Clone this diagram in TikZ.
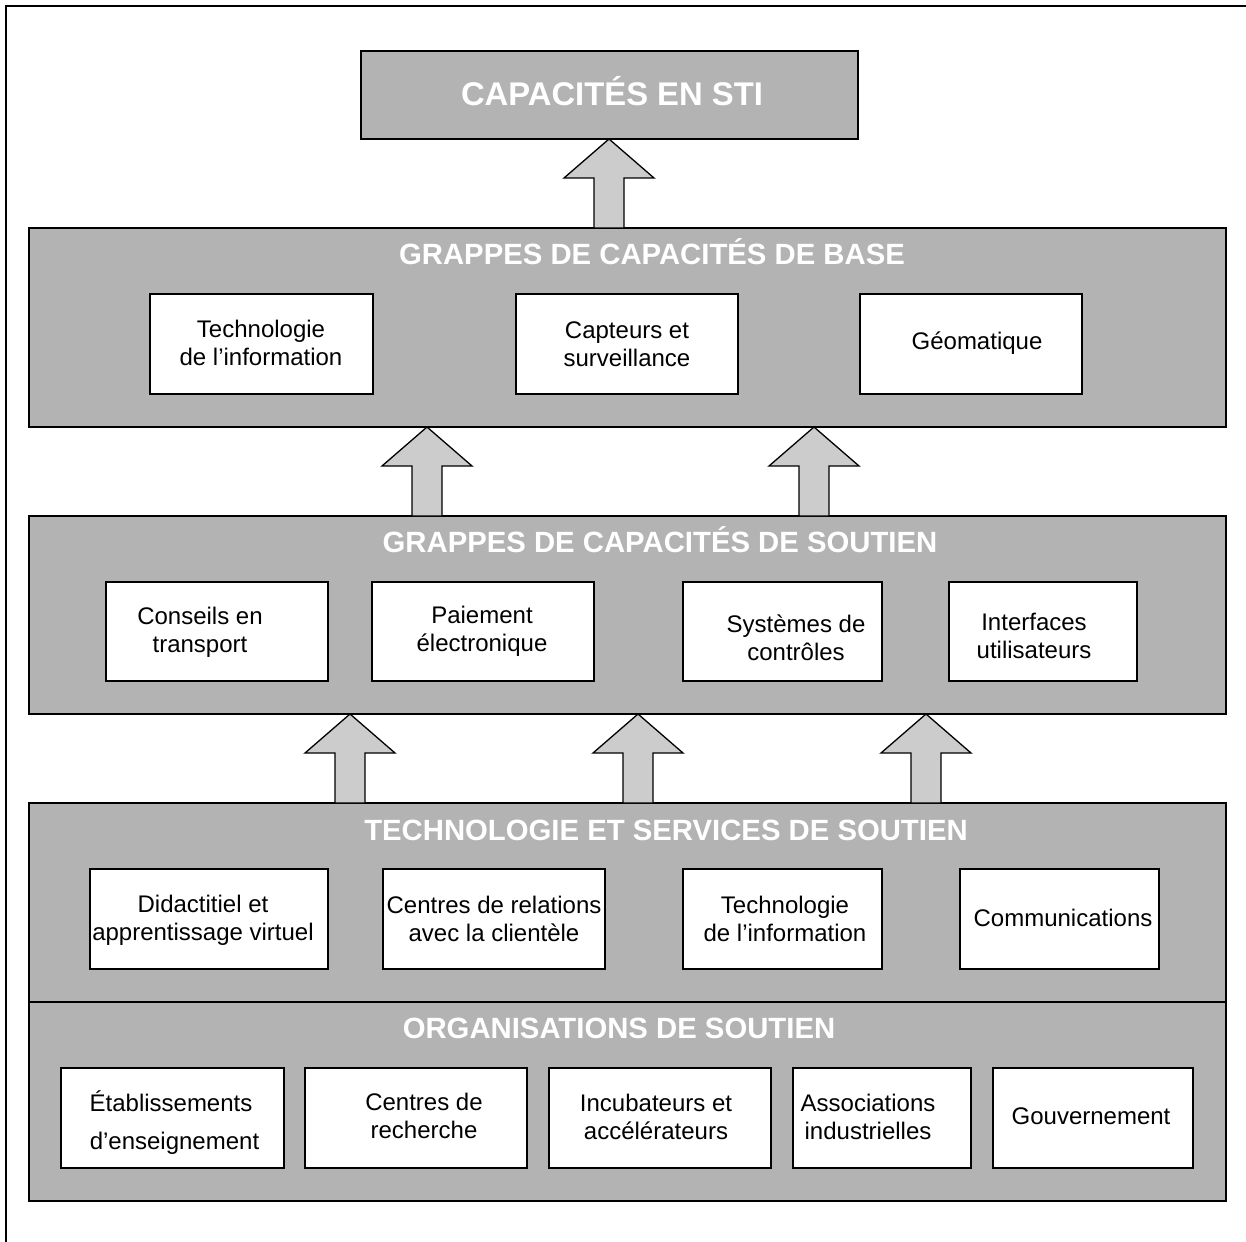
\documentclass[tikz,border=0pt]{standalone}
\usepackage{fontspec}
\setmainfont{Liberation Sans}
\usetikzlibrary{calc}
\definecolor{panelgray}{HTML}{B3B3B3}
\definecolor{arrowgray}{HTML}{CCCCCC}

% rectangle node from its top-left and bottom-right corners
\newcommand\boxat[6]{%
  \node[#2, anchor=north west, inner sep=0pt, outer sep=0pt,
        minimum width=#5pt-#3pt, minimum height=#6pt-#4pt] (#1) at (#3,#4) {};}

% wide upward block arrow from the top of one panel to the bottom of the next
\newcommand\flowarrow[3]{%
  \path[flow] let \p1=(#1.north), \p2=(#2.south) in
    (#3pt-15pt,\y1) -- (#3pt-15pt,\y2-39pt) -- (#3pt-45pt,\y2-39pt) -- (#3pt,\y2)
    -- (#3pt+45pt,\y2-39pt) -- (#3pt+15pt,\y2-39pt) -- (#3pt+15pt,\y1) -- cycle;}

\begin{document}
\begin{tikzpicture}[x=1pt,y=-1pt,
  panel/.style={draw=black, fill=panelgray, line width=1.6pt},
  item/.style={draw=black, fill=white, line width=1.4pt},
  itemtext/.style={align=center, inner sep=0pt, font=\fontsize{24}{28}\selectfont},
  heading/.style={anchor=base, inner sep=0pt, text=white, font=\fontsize{29.3}{34}\selectfont\bfseries},
  flow/.style={draw=black, fill=arrowgray, line width=1.3pt, line join=miter}]

\useasboundingbox (0,0) rectangle (1246,1241);

% outer frame
\coordinate (frameBL) at (6,1250);
\coordinate (frameTL) at (6,6);
\coordinate (frameTR) at (1250,6);
\draw[line width=1.8pt] (frameBL) -- (frameTL) -- (frameTR);

% top block
\boxat{sti}{panel}{361}{51}{858}{139}
\node[anchor=base, inner sep=0pt, text=white, font=\fontsize{32.8}{38}\selectfont\bfseries]
  (stit) at (612,106) {CAPACITÉS EN STI};

% panels
\boxat{base}{panel}{29}{228}{1226}{427}
\boxat{sout}{panel}{29}{516}{1226}{714}
\boxat{tech}{panel}{29}{803}{1226}{1002}
\boxat{org}{panel}{29}{1002}{1226}{1201}

\node[heading] (baset) at (652,264) {GRAPPES DE CAPACITÉS DE BASE};
\node[heading] (soutt) at (660,552) {GRAPPES DE CAPACITÉS DE SOUTIEN};
\node[heading] (techt) at (666,840) {TECHNOLOGIE ET SERVICES DE SOUTIEN};
\node[heading] (orgt)  at (619,1038) {ORGANISATIONS DE SOUTIEN};

% core capability clusters
\boxat{ti1}{item}{150}{294}{373}{394}
\boxat{capt}{item}{516}{294}{738}{394}
\boxat{geo}{item}{860}{294}{1082}{394}
\node[itemtext] (ti1t)  at (261,343) {Technologie\\de l’information};
\node[itemtext] (captt) at (627,344) {Capteurs et\\surveillance};
\node[itemtext] (geot)  at (977,343) {Géomatique};

% supporting capability clusters
\boxat{cons}{item}{106}{582}{328}{681}
\boxat{paie}{item}{372}{582}{594}{681}
\boxat{syst}{item}{683}{582}{882}{681}
\boxat{intf}{item}{949}{582}{1137}{681}
\node[itemtext] (const) at (200,632) {Conseils en\\transport};
\node[itemtext] (paiet) at (482,631) {Paiement\\électronique};
\node[itemtext] (systt) at (796,638) {Systèmes de\\contrôles};
\node[itemtext] (intft) at (1034,636) {Interfaces\\utilisateurs};

% supporting technology and services
\boxat{dida}{item}{90}{869}{328}{969}
\boxat{crel}{item}{383}{869}{605}{969}
\boxat{tinf}{item}{683}{869}{882}{969}
\boxat{comm}{item}{960}{869}{1159}{969}
\node[itemtext] (didat) at (203,920) {Didactitiel et\\apprentissage virtuel};
\node[itemtext] (crelt) at (494,919) {Centres de relations\\avec la clientèle};
\node[itemtext] (tinft) at (785,919) {Technologie\\de l’information};
\node[itemtext] (commt) at (1063,918) {Communications};

% supporting organisations
\boxat{etab}{item}{61}{1068}{284}{1168}
\boxat{rech}{item}{305}{1068}{527}{1168}
\boxat{incu}{item}{549}{1068}{771}{1168}
\boxat{asso}{item}{793}{1068}{971}{1168}
\boxat{gouv}{item}{993}{1068}{1193}{1168}
\node[itemtext] (etabt) at (171,1123) {Établissements\\[10pt]\hspace*{7pt}d’enseignement};
\node[itemtext] (recht) at (424,1116) {Centres de\\recherche};
\node[itemtext] (incut) at (656,1117) {Incubateurs et\\accélérateurs};
\node[itemtext] (assot) at (868,1117) {Associations\\industrielles};
\node[itemtext] (gouvt) at (1091,1116) {Gouvernement};

% upward flows
\flowarrow{base}{sti}{609}
\flowarrow{sout}{base}{427}
\flowarrow{sout}{base}{814}
\flowarrow{tech}{sout}{350}
\flowarrow{tech}{sout}{638}
\flowarrow{tech}{sout}{926}

\end{tikzpicture}
\end{document}
